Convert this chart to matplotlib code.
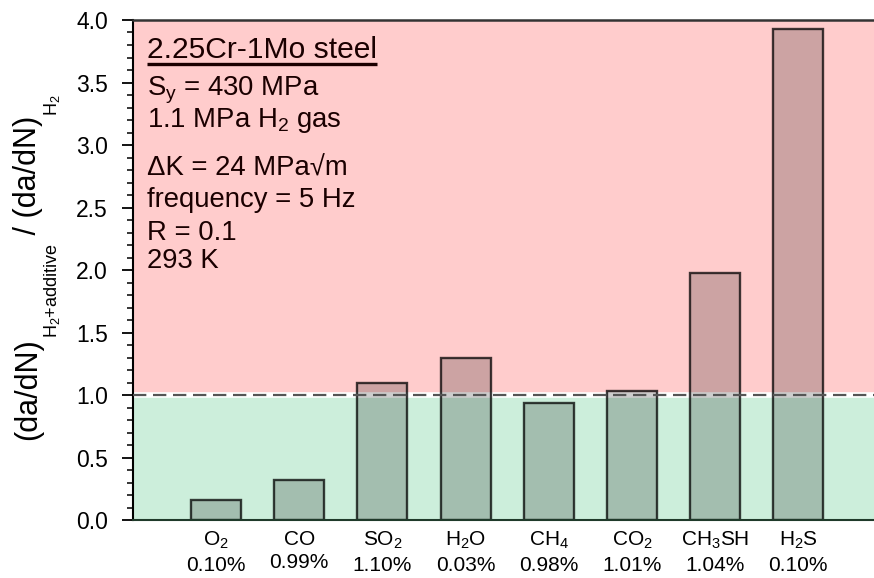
import matplotlib
matplotlib.use("Agg")
import matplotlib.pyplot as plt
from matplotlib.ticker import MultipleLocator, FormatStrFormatter
from matplotlib.transforms import IdentityTransform

plt.rcParams['font.family'] = ['Liberation Sans', 'DejaVu Sans']
plt.rcParams['mathtext.fontset'] = 'custom'
plt.rcParams['mathtext.rm'] = 'Liberation Sans'
plt.rcParams['mathtext.it'] = 'Liberation Sans:italic'
plt.rcParams['mathtext.bf'] = 'Liberation Sans:bold'

# Additive gases, their concentrations and the crack growth rate ratio
gases = [r'O$_2$', 'CO', r'SO$_2$', r'H$_2$O', r'CH$_4$', r'CO$_2$',
         r'CH$_3$SH', r'H$_2$S']
concentrations = ['0.10%', '0.99%', '1.10%', '0.03%', '0.98%', '1.01%',
                  '1.04%', '0.10%']
ratios = [0.16, 0.32, 1.10, 1.30, 0.94, 1.03, 1.98, 3.93]

title_text = '2.25Cr-1Mo steel'
info_lines = [r'S$_\mathrm{y}$ = 430 MPa', r'1.1 MPa H$_2$ gas',
              'ΔK = 24 MPa√m', 'frequency = 5 Hz', 'R = 0.1', '293 K']

# y-axis label split into main text and small subscripts
ylabel_parts = [('(da/dN)', False), (r'H$_2$+additive', True),
                (' / (da/dN)', False), (r'H$_2$', True)]

W, H = 874, 578
fig = plt.figure(figsize=(W / 100, H / 100), dpi=100)
ax = fig.add_axes([0.152, 0.1003, 0.848, 0.8651])

xmin, xmax = 0.0, 8.91
ymin, ymax = 0.0, 4.0
ax.set_xlim(xmin, xmax)
ax.set_ylim(ymin, ymax)

# Shaded regions: acceleration (red) above 1, retardation (green) below
ax.axhspan(1.0, ymax, color='#FFCCCC', lw=0, zorder=0)
ax.axhspan(ymin, 1.0, color='#CCEEDB', lw=0, zorder=0)
ax.axhline(1.0, color='white', lw=4, zorder=1)
ax.axhline(1.0, color='#555555', lw=1.6, ls=(0, (6, 3)), zorder=3)

positions = list(range(1, len(ratios) + 1))
ax.bar(positions, ratios, width=0.6, facecolor=(0, 0, 0, 0.2),
       edgecolor=(0, 0, 0, 0.75), linewidth=1.7, zorder=2)

ax.set_xticks(positions)
ax.set_xticklabels([f'{g}\n{c}' for g, c in zip(gases, concentrations)],
                   fontsize=15, linespacing=1.3)
ax.tick_params(axis='x', length=0, pad=7)

ax.yaxis.set_major_locator(MultipleLocator(0.5))
ax.yaxis.set_minor_locator(MultipleLocator(0.1))
ax.yaxis.set_major_formatter(FormatStrFormatter('%.1f'))
ax.tick_params(axis='y', which='major', direction='out', length=8,
               width=1.3, labelsize=16.5, pad=10)
ax.tick_params(axis='y', which='minor', direction='out', length=4.5,
               width=1.1)

ax.spines['right'].set_visible(False)
ax.spines['left'].set_linewidth(1.5)
ax.spines['top'].set_linewidth(1.8)
ax.spines['top'].set_color('#333333')
ax.spines['bottom'].set_linewidth(1.5)
ax.spines['bottom'].set_color('#1f3a2a')

fig.canvas.draw()
renderer = fig.canvas.get_renderer()

# Rotated y label, built piece by piece from the bottom upwards and
# then centred on the plotting area
main_x, sub_x = 36, 57
pieces = []
y_cursor = 0.0
for txt, is_sub in ylabel_parts:
    t = fig.text(sub_x if is_sub else main_x, y_cursor, txt,
                 transform=IdentityTransform(),
                 fontsize=13 if is_sub else 22, rotation=90,
                 rotation_mode='anchor', ha='left', va='baseline')
    pieces.append((t, y_cursor))
    y_cursor += t.get_window_extent(renderer).height
label_center = H - 267
for t, offset in pieces:
    x, _ = t.get_position()
    t.set_position((x, label_center - y_cursor / 2 + offset))

# Material and test condition annotation
text_color = '#1a0000'
title = ax.text(0.019, 0.924, title_text, transform=ax.transAxes,
                fontsize=21.6, color=text_color, va='baseline', ha='left')
bb = title.get_window_extent(renderer)
inv = ax.transAxes.inverted()
(x0, _), (x1, _) = inv.transform([(bb.x0, bb.y0), (bb.x1, bb.y0)])
ax.plot([x0, x1], [0.913, 0.913], transform=ax.transAxes,
        color=text_color, lw=2.4, solid_capstyle='butt')

y_positions = [0.85, 0.786, 0.688, 0.626, 0.56, 0.504]
for txt, yy in zip(info_lines, y_positions):
    ax.text(0.019, yy, txt, transform=ax.transAxes, fontsize=19.8,
            color=text_color, va='baseline', ha='left')

fig.savefig('out.png', dpi=100)
